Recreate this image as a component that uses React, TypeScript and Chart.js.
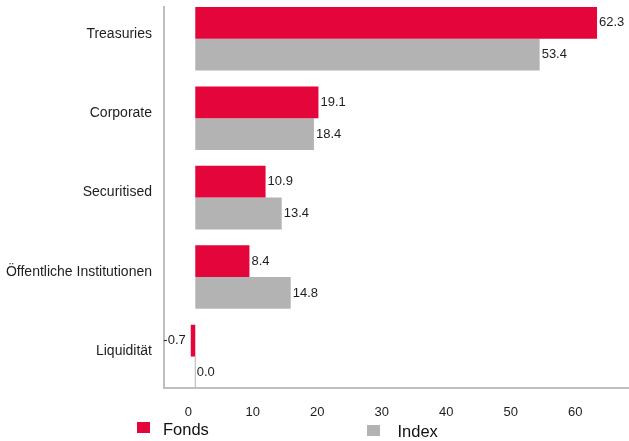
import React, { useEffect, useRef } from 'react';
import { Chart, registerables } from 'chart.js';

Chart.register(...registerables);

const categories = ['Treasuries', 'Corporate', 'Securitised', 'Öffentliche Institutionen', 'Liquidität'];
const fondsValues = [62.3, 19.1, 10.9, 8.4, -0.7];
const indexValues = [53.4, 18.4, 13.4, 14.8, 0.0];
const xTickValues = [0, 10, 20, 30, 40, 50, 60];
const seriesNames = ['Fonds', 'Index'];
const seriesColors = ['#e4053b', '#b3b3b3'];

const FONT = "'Liberation Sans', Arial, Helvetica, sans-serif";
const TEXT = '#1e1e1e';
const AXIS = '#bfbfbf';

const valueLabels = {
  id: 'valueLabels',
  afterDatasetsDraw(chart: any) {
    const ctx = chart.ctx;
    ctx.save();
    ctx.font = `13px ${FONT}`;
    ctx.fillStyle = TEXT;
    ctx.textBaseline = 'middle';
    chart.data.datasets.forEach((ds: any, di: number) => {
      const meta = chart.getDatasetMeta(di);
      meta.data.forEach((bar: any, i: number) => {
        const v = ds.data[i].x as number;
        const text = v.toFixed(1);
        if (v < 0) {
          ctx.textAlign = 'right';
          ctx.fillText(text, bar.x - 5, bar.y);
        } else {
          ctx.textAlign = 'left';
          ctx.fillText(text, bar.x + 2, bar.y);
        }
      });
    });
    ctx.restore();
  },
};

export default function App() {
  const canvasRef = useRef<HTMLCanvasElement | null>(null);

  useEffect(() => {
    if (!canvasRef.current) return;
    const mk = (vals: number[]) => vals.map((v, i) => ({ x: v, y: i }));
    const chart = new Chart(canvasRef.current, {
      type: 'bar',
      data: {
        datasets: [
          {
            label: seriesNames[0],
            data: mk(fondsValues),
            backgroundColor: seriesColors[0],
            categoryPercentage: 0.8,
            barPercentage: 1,
          },
          {
            label: seriesNames[1],
            data: mk(indexValues),
            backgroundColor: seriesColors[1],
            categoryPercentage: 0.8,
            barPercentage: 1,
            minBarLength: 1,
          },
        ] as any,
      },
      options: {
        indexAxis: 'y',
        animation: false,
        responsive: false,
        maintainAspectRatio: false,
        layout: { padding: { top: 7, right: 1, bottom: 0, left: 0 } },
        plugins: {
          legend: { display: false },
          tooltip: { enabled: false },
        },
        scales: {
          x: {
            type: 'linear',
            position: 'bottom',
            min: -4.85,
            max: 67.1,
            offset: false,
            grid: { display: false, drawTicks: false, offset: false },
            border: { display: true, color: AXIS, width: 2 },
            ticks: {
              stepSize: 10,
              includeBounds: false,
              labelOffset: -7,
              padding: 17,
              color: TEXT,
              font: { family: FONT, size: 13 },
              callback: (v: any) => String(v),
            },
            afterBuildTicks: (axis: any) => {
              axis.ticks = xTickValues.map((v) => ({ value: v }));
            },
            afterFit: (s: any) => {
              s.height = 53;
              s.paddingLeft = 0;
              s.paddingRight = 0;
            },
          },
          y: {
            type: 'linear',
            reverse: true,
            min: -0.399,
            max: 4.396,
            offset: false,
            bounds: 'data',
            grid: { display: false, drawTicks: false, offset: false },
            border: { display: true, color: AXIS, width: 2 },
            ticks: {
              padding: 12,
              labelOffset: -5,
              color: TEXT,
              font: { family: FONT, size: 14 },
              callback: (_v: any, i: number) => categories[i],
            },
            afterBuildTicks: (axis: any) => {
              axis.ticks = categories.map((_c, i) => ({ value: i }));
            },
            afterFit: (s: any) => {
              s.width = 164;
              s.paddingTop = 0;
              s.paddingBottom = 0;
            },
          },
        },
      } as any,
      plugins: [valueLabels],
    });
    return () => chart.destroy();
  }, []);

  const legendItems = [
    { name: seriesNames[0], color: seriesColors[0], boxLeft: 137, boxTop: 422, textLeft: 163, textTop: 421 },
    { name: seriesNames[1], color: seriesColors[1], boxLeft: 367, boxTop: 425, textLeft: 397.5, textTop: 423 },
  ];

  return (
    <div style={{ position: 'fixed', left: 0, top: 0, width: 629, height: 441, background: '#fff' }}>
      <canvas ref={canvasRef} width={629} height={441} style={{ display: 'block', width: 629, height: 441 }} />
      {legendItems.map((it) => (
        <React.Fragment key={it.name}>
          <div
            style={{
              position: 'absolute',
              left: it.boxLeft,
              top: it.boxTop,
              width: 13,
              height: 11,
              background: it.color,
            }}
          />
          <div
            style={{
              position: 'absolute',
              left: it.textLeft,
              top: it.textTop,
              fontFamily: FONT,
              fontSize: 16.5,
              lineHeight: '16px',
              color: '#111',
              whiteSpace: 'nowrap',
            }}
          >
            {it.name}
          </div>
        </React.Fragment>
      ))}
    </div>
  );
}
